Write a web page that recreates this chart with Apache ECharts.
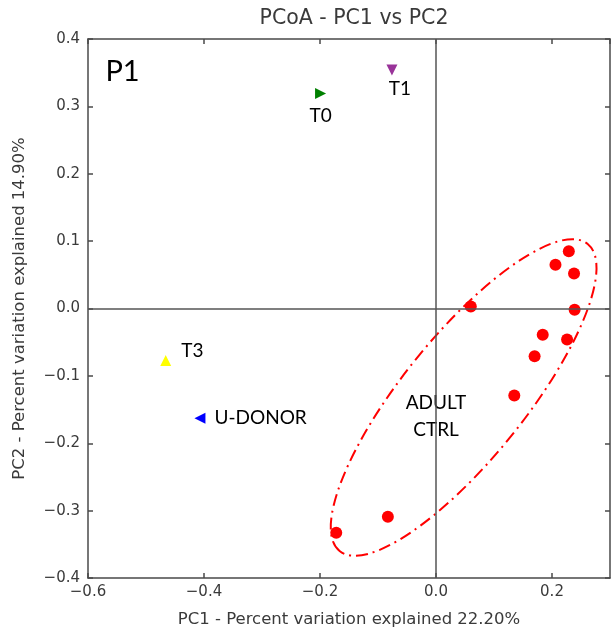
<!DOCTYPE html>
<html>
<head>
<meta charset="utf-8">
<script src="https://cdn.jsdelivr.net/npm/echarts@6/dist/echarts.min.js"></script>
<style>html,body{margin:0;padding:0;background:#fff;}#c{width:612px;height:635px;}</style>
</head>
<body>
<div id="c"></div>
<script>
// ---- data ----
const groupNames = ['T0', 'T1', 'T3', 'U-DONOR'];
const groupX = [-0.199, -0.076, -0.466, -0.407];
const groupY = [0.319, 0.354, -0.077, -0.163];

const adultX = [0.229, 0.206, 0.238, 0.060, 0.239, 0.184, 0.226, 0.170, 0.135, -0.083, -0.172];
const adultY = [0.085, 0.065, 0.052, 0.003, -0.002, -0.039, -0.046, -0.071, -0.129, -0.309, -0.333];

const xTicks = [-0.6, -0.4, -0.2, 0.0, 0.2];
const yTicks = [-0.4, -0.3, -0.2, -0.1, 0.0, 0.1, 0.2, 0.3, 0.4];

// ellipse annotation (data coords): ends of major axis and end of minor axis
const ellipseTipA = [0.2615, 0.0958];
const ellipseTipB = [-0.1662, -0.360];
const ellipseMinorEnd = [0.1299, -0.189];

// annotation texts (data coords)
const panelLabel = {text: 'P1', x: -0.570, y: 0.351};
const clusterLabel = {text: 'ADULT\nCTRL', x: 0.0, y: -0.1605};

// ---- styles ----
const groupColors = ['#008000', '#993399', '#ffff00', '#0000ff'];
const groupRotate = [-90, 180, 0, 90];
const groupLabelCfg = [
  {position: 'bottom', distance: 7, offset: [0, 0]},
  {position: 'bottom', distance: 4, offset: [8, 0]},
  {position: 'right', distance: 8, offset: [2, -10]},
  {position: 'right', distance: 9, offset: [0, 0]}
];
const AX = 'DejaVu Sans';
const ANN = 'Lato';
const fmt = v => {
  const s = (Math.abs(v) < 1e-9 ? 0 : v).toFixed(1);
  return s.replace('-', '\u2212');
};

const groupData = groupNames.map((n, i) => ({
  name: n,
  value: [groupX[i], groupY[i]],
  symbolRotate: groupRotate[i],
  itemStyle: {color: groupColors[i], opacity: 1},
  label: {
    show: true, formatter: n, position: groupLabelCfg[i].position,
    distance: groupLabelCfg[i].distance, offset: groupLabelCfg[i].offset,
    fontFamily: ANN, fontSize: 19, color: '#000'
  }
}));
const adultData = adultX.map((x, i) => [x, adultY[i]]);

const axisLineStyle = {color: '#4a4a4a', width: 1.5};
const baseX = {
  type: 'value', min: -0.6, max: 0.3, interval: 0.2,
  splitLine: {show: false},
  axisLine: {show: true, onZero: false, lineStyle: axisLineStyle},
  axisTick: {show: true, inside: true, length: 5, lineStyle: {color: '#4a4a4a', width: 1.5}}
};
const baseY = {
  type: 'value', min: -0.4, max: 0.4, interval: 0.1,
  splitLine: {show: false},
  axisLine: {show: true, onZero: false, lineStyle: axisLineStyle},
  axisTick: {show: true, inside: true, length: 5, lineStyle: {color: '#4a4a4a', width: 1.5}}
};

const chart = echarts.init(document.getElementById('c'), null, {renderer: 'canvas'});
chart.setOption({
  animation: false,
  backgroundColor: '#fff',
  title: {
    text: 'PCoA - PC1 vs PC2', left: 349, top: 3, textAlign: 'center',
    textStyle: {fontFamily: AX, fontSize: 20.5, fontWeight: 'normal', color: '#3a3a3a'}
  },
  grid: {left: 88, right: 2, top: 39, bottom: 57, containLabel: false},
  xAxis: [
    Object.assign({}, baseX, {
      position: 'bottom',
      name: 'PC1 - Percent variation explained 22.20%',
      nameLocation: 'middle', nameGap: 33,
      nameTextStyle: {fontFamily: AX, fontSize: 16.5, color: '#3a3a3a'},
      axisLabel: {
        show: true, margin: 7, showMaxLabel: false,
        fontFamily: AX, fontSize: 15, color: '#3a3a3a',
        formatter: v => xTicks.some(t => Math.abs(t - v) < 1e-9) ? fmt(v) : ''
      }
    }),
    Object.assign({}, baseX, {position: 'top', axisLabel: {show: false}})
  ],
  yAxis: [
    Object.assign({}, baseY, {
      position: 'left',
      name: 'PC2 - Percent variation explained 14.90%',
      nameLocation: 'middle', nameGap: 60,
      nameTextStyle: {fontFamily: AX, fontSize: 16.5, color: '#3a3a3a'},
      axisLabel: {
        show: true, margin: 8,
        fontFamily: AX, fontSize: 15, color: '#3a3a3a',
        formatter: v => yTicks.some(t => Math.abs(t - v) < 1e-9) ? fmt(v) : ''
      }
    }),
    Object.assign({}, baseY, {position: 'right', axisLabel: {show: false}})
  ],
  series: [
    {
      // text annotations + zero lines
      type: 'scatter', z: 1, symbolSize: 0, silent: true,
      itemStyle: {opacity: 1},
      data: [
        {value: [panelLabel.x, panelLabel.y], label: {show: true, formatter: panelLabel.text, position: 'inside', align: 'left', fontFamily: ANN, fontSize: 29, color: '#000'}},
        {value: [clusterLabel.x, clusterLabel.y], label: {show: true, formatter: clusterLabel.text, position: 'inside', align: 'center', lineHeight: 27, fontFamily: ANN, fontSize: 19, color: '#000'}}
      ],
      markLine: {
        silent: true, symbol: ['none', 'none'], label: {show: false},
        lineStyle: {color: '#555', width: 1.5, type: 'solid', opacity: 1},
        data: [{xAxis: 0}, {yAxis: 0}]
      }
    },
    {
      type: 'custom', z: 2, silent: true,
      data: [[0, 0]],
      renderItem: function (params, api) {
        const a = api.coord(ellipseTipA);
        const b = api.coord(ellipseTipB);
        const m = api.coord(ellipseMinorEnd);
        const cx = (a[0] + b[0]) / 2, cy = (a[1] + b[1]) / 2;
        const rx = Math.hypot(a[0] - b[0], a[1] - b[1]) / 2;
        const ry = Math.hypot(m[0] - cx, m[1] - cy);
        const ang = Math.atan2(-(a[1] - b[1]), a[0] - b[0]);
        return {
          type: 'group', x: cx, y: cy, rotation: ang,
          children: [{
            type: 'ellipse',
            shape: {cx: 0, cy: 0, rx: rx, ry: ry},
            style: {fill: null, stroke: '#ff0000', lineWidth: 2, lineDash: [12, 5, 2, 5]}
          }]
        };
      }
    },
    {
      type: 'scatter', z: 3, symbol: 'circle', symbolSize: 12,
      itemStyle: {color: '#ff0000', opacity: 1},
      data: adultData
    },
    {
      type: 'scatter', z: 3, symbol: 'triangle', symbolSize: 11,
      data: groupData
    }
  ]
});
</script>
</body>
</html>
